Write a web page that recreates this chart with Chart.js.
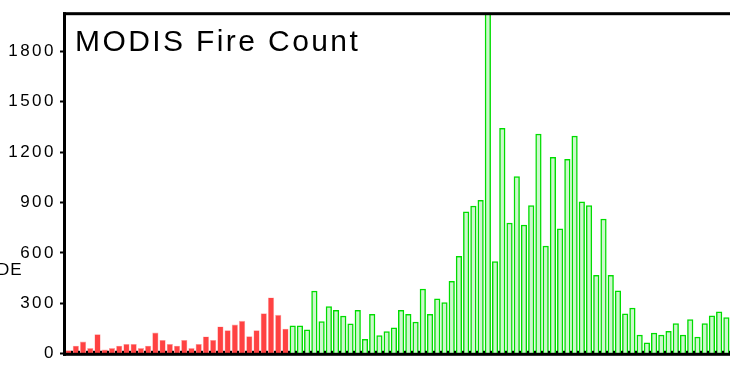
<!DOCTYPE html>
<html>
<head>
<meta charset="utf-8">
<script src="https://cdn.jsdelivr.net/npm/chart.js@4/dist/chart.umd.min.js"></script>
<style>
  html, body { margin: 0; padding: 0; background: #fff; overflow: hidden; }
  #wrap { position: relative; width: 730px; height: 368px; }
</style>
</head>
<body>
<div id="wrap"><canvas id="c" width="730" height="368"></canvas></div>
<script>
// Daily MODIS fire detections
const chartTitle = 'MODIS Fire Count';
const sideLabel = 'DE';
const yTickValues = [0, 300, 600, 900, 1200, 1500, 1800];

// earlier period (filled red bars)
const redCounts = [21, 48, 73, 34, 117, 25, 34, 48, 59, 59, 34, 48, 126, 82, 59, 48,
                   82, 34, 59, 103, 82, 163, 140, 174, 196, 105, 140, 241, 335, 232, 149];

// later period (outlined green bars)
const greenCounts = [168, 168, 145, 375, 194, 283, 260, 226, 180, 260, 88, 237, 111, 134,
                     157, 260, 237, 191, 387, 237, 329, 306, 433, 582, 847, 881, 915,
                     2150, 550, 1343, 780, 1056, 768, 883, 1309, 642, 1171, 745, 1159,
                     1297, 906, 883, 469, 803, 469, 377, 240,
                     274, 113, 67, 125, 113, 136, 182, 113, 205, 102, 182, 228, 251, 217];

const dayLabels = Array.from({ length: redCounts.length + greenCounts.length }, (_, i) => String(i + 1));
const redSeries = dayLabels.map((_, i) => (i < redCounts.length ? redCounts[i] : null));
const greenSeries = dayLabels.map((_, i) => (i < redCounts.length ? null : greenCounts[i - redCounts.length]));

Chart.defaults.font.family = '"Liberation Sans", Arial, sans-serif';
Chart.defaults.color = '#000';

// frame, tick marks on the base line, title and side text
const framePlugin = {
  id: 'frame',
  beforeDraw(chart) {
    chart.ctx.letterSpacing = '2.5px';
  },
  afterDatasetsDraw(chart) {
    const { ctx, chartArea: a, scales } = chart;
    ctx.save();
    ctx.fillStyle = '#000';
    // small marks between days along the base line
    const xs = scales.x;
    for (let i = 0; i <= dayLabels.length; i++) {
      const bx = xs.getPixelForValue(i - 0.5);
      ctx.fillRect(Math.round(bx) - 1, a.bottom - 3, 2, 3);
    }
    // top border
    ctx.fillRect(a.left - 2, a.top - 2, a.right - a.left + 2, 3);
    // base line
    ctx.fillRect(a.left - 2, a.bottom - 1, a.right - a.left + 2, 3);
    // left axis line
    ctx.fillRect(a.left - 2, a.top - 2, 3, a.bottom - a.top + 4);
    ctx.restore();
  },
  afterDraw(chart) {
    const { ctx, chartArea: a } = chart;
    ctx.save();
    ctx.fillStyle = '#000';
    ctx.textAlign = 'left';
    ctx.textBaseline = 'alphabetic';
    ctx.letterSpacing = '2.4px';
    ctx.font = '30px "Liberation Sans", Arial, sans-serif';
    ctx.fillText(chartTitle, a.left + 10, a.top + 37);
    ctx.letterSpacing = '1px';
    ctx.font = '17px "Liberation Sans", Arial, sans-serif';
    ctx.fillText(sideLabel, -3, 275);
    ctx.restore();
    ctx.letterSpacing = '0px';
  }
};

new Chart(document.getElementById('c'), {
  type: 'bar',
  data: {
    labels: dayLabels,
    datasets: [
      {
        label: 'green',
        data: greenSeries,
        backgroundColor: 'rgba(0, 215, 0, 0.2)',
        borderColor: '#00dd00',
        borderWidth: 1.5,
        borderSkipped: 'bottom',
        barPercentage: 0.86,
        categoryPercentage: 1.0,
        order: 2
      },
      {
        label: 'red',
        data: redSeries,
        backgroundColor: '#ff4242',
        borderColor: 'rgba(255, 160, 160, 0.9)',
        borderWidth: 0.6,
        borderSkipped: 'bottom',
        barPercentage: 0.86,
        categoryPercentage: 1.0,
        order: 1
      }
    ]
  },
  options: {
    responsive: false,
    animation: false,
    devicePixelRatio: 1,
    layout: { padding: { top: 10, right: 0, bottom: 0, left: 0 } },
    plugins: { legend: { display: false }, tooltip: { enabled: false }, title: { display: false } },
    datasets: { bar: { grouped: false } },
    scales: {
      x: {
        type: 'category',
        offset: true,
        grid: { display: false },
        border: { display: false },
        ticks: { display: false },
        afterFit(scale) { scale.height = 7; }
      },
      y: {
        min: 0,
        max: 2020,
        border: { display: false },
        grid: { drawOnChartArea: false, drawTicks: true, tickLength: 5, tickWidth: 2, tickColor: '#000' },
        ticks: { font: { size: 17 }, color: '#000', padding: 4, callback: v => String(v) },
        afterBuildTicks(scale) { scale.ticks = yTickValues.map(v => ({ value: v })); },
        afterFit(scale) { scale.width = 65; }
      }
    }
  },
  plugins: [framePlugin]
});
</script>
</body>
</html>
